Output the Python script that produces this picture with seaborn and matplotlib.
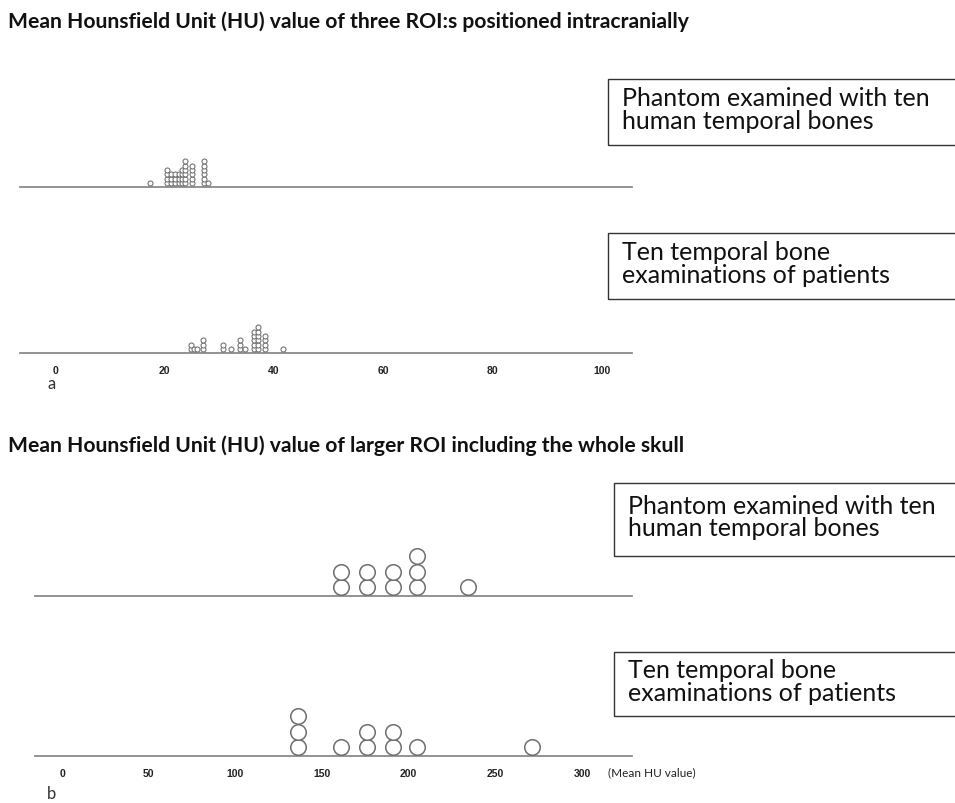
import numpy as np
import pandas as pd
import matplotlib
matplotlib.use("Agg")
import matplotlib.pyplot as plt
from matplotlib.patches import Rectangle
import seaborn as sns

# Mean HU values (one entry per measurement, repeated values stack up)
phantom_a = [17.4,
             20.5, 20.5, 20.5, 20.5,
             21.2, 21.2, 21.2,
             21.9, 21.9, 21.9,
             22.7, 22.7, 22.7,
             23.2, 23.2, 23.2, 23.2,
             23.7, 23.7, 23.7, 23.7, 23.7, 23.7,
             25.0, 25.0, 25.0, 25.0, 25.0,
             27.3, 27.3, 27.3, 27.3, 27.3, 27.3,
             27.9]
patients_a = [24.8, 24.8,
              25.4,
              25.9,
              27.1, 27.1, 27.1,
              30.8, 30.8,
              32.2,
              33.8, 33.8, 33.8,
              34.8,
              36.3, 36.3, 36.3, 36.3, 36.3,
              37.2, 37.2, 37.2, 37.2, 37.2, 37.2,
              38.3, 38.3, 38.3, 38.3,
              41.6]
phantom_b = [161, 161, 176, 176, 191, 191, 205, 205, 205, 234]
patients_b = [136, 136, 136, 161, 176, 176, 191, 191, 205, 271]

ticks_a = [0, 20, 40, 60, 80, 100]
ticks_b = [0, 50, 100, 150, 200, 250, 300]

title_a = "Mean Hounsfield Unit (HU) value of three ROI:s positioned intracranially"
title_b = "Mean Hounsfield Unit (HU) value of larger ROI including the whole skull"
label_phantom = "Phantom examined with ten\nhuman temporal bones"
label_patients = "Ten temporal bone\nexaminations of patients"

W, H = 955, 804
LINE = "#8a8a8a"
DOT = "#6e6e6e"

sns.set_theme(style="white")
plt.rcParams["font.family"] = ["Lato", "DejaVu Sans"]

fig = plt.figure(figsize=(W / 100, H / 100), dpi=100)


def fx(x):
    return x / W


def fy(y):
    return 1 - y / H


def dot_axes(values, base_y, left, right, x0_px, px_per_unit, diam, s, lw, lift, ticks=None):
    height = 90
    ax = fig.add_axes([fx(left), fy(base_y), fx(right - left), height / H])
    df = pd.DataFrame({"value": values})
    df["level"] = df.groupby("value").cumcount()
    df["y"] = lift + diam / 2 + df["level"] * diam
    sns.scatterplot(data=df, x="value", y="y", ax=ax, marker="o", s=s,
                    color="white", edgecolor=DOT, linewidth=lw, zorder=3,
                    clip_on=False)
    ax.set_xlim((left - x0_px) / px_per_unit, (right - x0_px) / px_per_unit)
    ax.set_ylim(0, height)
    for side in ["top", "left", "right"]:
        ax.spines[side].set_visible(False)
    ax.spines["bottom"].set_color(LINE)
    ax.spines["bottom"].set_linewidth(1.3)
    ax.set_xlabel("")
    ax.set_ylabel("")
    ax.set_yticks([])
    if ticks is None:
        ax.set_xticks([])
    else:
        ax.set_xticks(ticks)
        ax.set_xticklabels([str(t) for t in ticks], fontweight="bold", fontsize=7.5,
                           family=["Liberation Sans", "DejaVu Sans"])
        ax.tick_params(axis="x", length=0, pad=9, colors="#222222")
    ax.patch.set_alpha(0)
    return ax


def label_box(x, top, bottom, text):
    fig.patches.append(Rectangle((fx(x), fy(bottom)), fx(W + 20 - x), (bottom - top) / H,
                                 transform=fig.transFigure, fill=False,
                                 edgecolor="#333333", linewidth=1.0))
    fig.text(fx(x + 14), fy((top + bottom) / 2 - 3), text, fontsize=18,
             va="center", ha="left", linespacing=0.95, color="#111111")


# panel a
fig.text(fx(8), fy(22), title_a, fontsize=15.2, fontweight="bold", va="center", color="#111111")
dot_axes(phantom_a, 188, 20, 632, 55, 5.47, 4.3, 13, 0.75, 2)
dot_axes(patients_a, 354, 20, 632, 55, 5.47, 4.3, 13, 0.75, 2, ticks=ticks_a)
label_box(608, 80, 146, label_phantom)
label_box(608, 234, 300, label_patients)
fig.text(fx(47), fy(384), "a", fontsize=12, va="center", color="#333333")

# panel b
fig.text(fx(8), fy(446), title_b, fontsize=15.2, fontweight="bold", va="center", color="#111111")
dot_axes(phantom_b, 597, 35, 632, 62, 1.7333, 15.5, 125, 1.1, 1)
dot_axes(patients_b, 757, 35, 632, 62, 1.7333, 15.5, 125, 1.1, 1, ticks=ticks_b)
label_box(614, 484, 557, label_phantom)
label_box(614, 653, 717, label_patients)
fig.text(fx(608), fy(773), "(Mean HU value)", fontsize=8.5, va="center", color="#222222")
fig.text(fx(47), fy(794), "b", fontsize=12, va="center", color="#333333")

fig.savefig("out.png", dpi=100, facecolor="white")
